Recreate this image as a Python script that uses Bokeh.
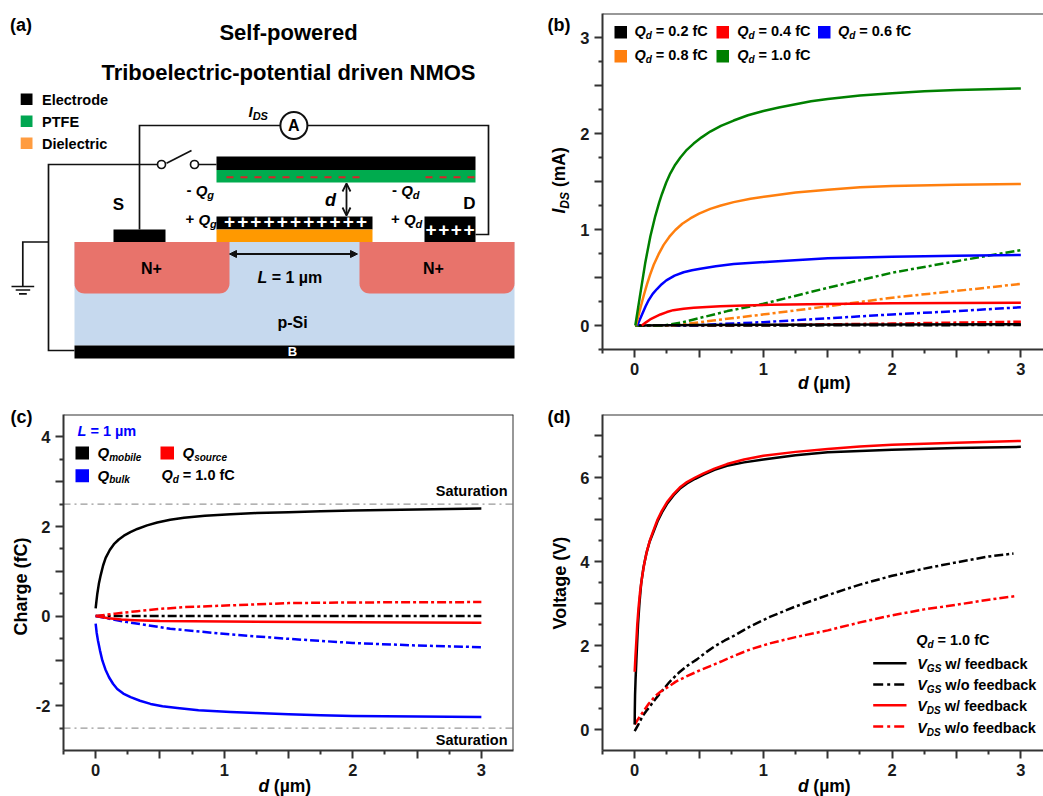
import numpy as np
from bokeh.embed import file_html
from bokeh.resources import INLINE
from bokeh.layouts import column, row
from bokeh.plotting import figure
from bokeh.models import Label, Span, Range1d, FixedTicker, Arrow, OpenHead, NormalHead
from bokeh.core.properties import value

# ---------- panel (b) values: I_DS (mA) against d (um) ----------
b_d_10 = [0.005, 0.039, 0.083, 0.122, 0.16, 0.19, 0.212, 0.245, 0.277, 0.315, 0.355, 0.405, 0.458, 0.52, 0.587, 0.67, 0.769, 0.88, 1.0, 1.12, 1.25, 1.37, 1.5, 1.75, 2.0, 2.25, 2.5, 2.75, 3.0]
b_i_10 = [0.0, 0.29, 0.66, 0.93, 1.14, 1.28, 1.37, 1.49, 1.585, 1.675, 1.75, 1.83, 1.895, 1.96, 2.02, 2.08, 2.135, 2.19, 2.235, 2.27, 2.305, 2.335, 2.36, 2.395, 2.42, 2.44, 2.452, 2.462, 2.47]
b_d_08 = [0.01, 0.044, 0.07, 0.096, 0.12, 0.148, 0.185, 0.225, 0.27, 0.316, 0.37, 0.432, 0.5, 0.587, 0.67, 0.769, 0.9, 1.05, 1.25, 1.5, 1.75, 2.0, 2.5, 3.0]
b_i_08 = [0.0, 0.18, 0.31, 0.43, 0.53, 0.633, 0.74, 0.84, 0.925, 0.995, 1.06, 1.115, 1.165, 1.215, 1.25, 1.285, 1.32, 1.35, 1.385, 1.415, 1.44, 1.453, 1.465, 1.474]
b_d_06 = [0.02, 0.057, 0.085, 0.109, 0.14, 0.173, 0.21, 0.246, 0.31, 0.38, 0.445, 0.51, 0.63, 0.769, 1.05, 1.5, 2.0, 2.5, 3.0]
b_i_06 = [0.0, 0.115, 0.2, 0.265, 0.33, 0.38, 0.43, 0.47, 0.52, 0.555, 0.575, 0.592, 0.617, 0.64, 0.665, 0.70, 0.716, 0.727, 0.735]
b_d_04 = [0.055, 0.085, 0.12, 0.16, 0.2, 0.25, 0.3, 0.38, 0.458, 0.56, 0.665, 0.85, 1.05, 1.5, 2.0, 2.5, 3.0]
b_i_04 = [0.0, 0.03, 0.063, 0.09, 0.115, 0.14, 0.16, 0.175, 0.184, 0.193, 0.2, 0.208, 0.215, 0.225, 0.232, 0.235, 0.236]
b_d_02 = [0.03, 0.5, 1.0, 2.0, 3.0]
b_i_02 = [0.0, 0.005, 0.008, 0.01, 0.012]
bd_d_10 = [0.005, 0.22, 0.355, 0.72, 1.0, 1.5, 2.0, 2.5, 3.0]
bd_i_10 = [0.0, 0.0, 0.028, 0.15, 0.226, 0.393, 0.55, 0.67, 0.785]
bd_d_08 = [0.005, 0.3, 0.61, 1.03, 1.5, 2.0, 2.5, 3.0]
bd_i_08 = [0.0, 0.0, 0.052, 0.12, 0.2, 0.29, 0.36, 0.434]
bd_d_06 = [0.005, 0.5, 1.0, 1.5, 2.0, 2.5, 3.0]
bd_i_06 = [0.0, 0.005, 0.035, 0.075, 0.115, 0.15, 0.19]
bd_d_04 = [0.005, 1.0, 2.0, 3.0]
bd_i_04 = [0.0, 0.005, 0.02, 0.04]
bd_d_02 = [0.005, 1.0, 2.0, 3.0]
bd_i_02 = [0.0, 0.0, 0.003, 0.005]
b_labels = ["0.2", "0.4", "0.6", "0.8", "1.0"]

# ---------- panel (c) values: charge (fC) against d (um) ----------
c_mob_d = [0.0, 0.006, 0.013, 0.025, 0.039, 0.058, 0.078, 0.11, 0.142, 0.18, 0.22, 0.27, 0.324, 0.4, 0.479, 0.58, 0.687, 0.85, 1.05, 1.25, 1.5, 1.75, 2.0, 2.5, 3.0]
c_mob_q = [0.17, 0.33, 0.5, 0.72, 0.91, 1.13, 1.3, 1.475, 1.605, 1.71, 1.795, 1.875, 1.945, 2.025, 2.09, 2.15, 2.195, 2.24, 2.275, 2.30, 2.32, 2.34, 2.355, 2.38, 2.40]
c_blk_d = [0.0, 0.008, 0.018, 0.034, 0.052, 0.076, 0.104, 0.135, 0.168, 0.215, 0.272, 0.345, 0.427, 0.52, 0.635, 0.8, 1.05, 1.25, 1.5, 1.75, 2.0, 2.5, 3.0]
c_blk_q = [-0.17, -0.37, -0.545, -0.77, -0.99, -1.19, -1.365, -1.51, -1.626, -1.73, -1.81, -1.89, -1.96, -2.01, -2.05, -2.10, -2.14, -2.165, -2.19, -2.215, -2.23, -2.24, -2.25]
c_src_d = [0.0, 0.1, 0.2, 0.3, 0.5, 1.0, 2.0, 3.0]
c_src_q = [0.0, -0.05, -0.075, -0.09, -0.11, -0.12, -0.14, -0.15]
cd_src_d = [0.0, 0.15, 0.324, 0.5, 0.687, 1.05, 1.5, 2.0, 3.0]
cd_src_q = [0.0, 0.055, 0.11, 0.16, 0.2, 0.24, 0.29, 0.305, 0.313]
cd_mob_d = [0.0, 1.0, 2.0, 3.0]
cd_mob_q = [0.0, 0.0, 0.0, 0.0]
cd_blk_d = [0.0, 0.245, 0.58, 1.05, 1.5, 2.0, 2.5, 3.0]
cd_blk_q = [0.0, -0.134, -0.283, -0.41, -0.507, -0.6, -0.657, -0.694]
saturation_levels = [2.5, -2.5]

# ---------- panel (d) values: voltage (V) against d (um) ----------
d_vds_d = [0.0, 0.006, 0.013, 0.02, 0.03, 0.042, 0.057, 0.075, 0.096, 0.12, 0.148, 0.178, 0.212, 0.255, 0.303, 0.35, 0.406, 0.47, 0.536, 0.62, 0.717, 0.85, 1.0, 1.25, 1.5, 1.75, 2.0, 2.5, 3.0]
d_vds_v = [1.376, 1.75, 2.11, 2.5, 2.9, 3.28, 3.62, 3.96, 4.26, 4.52, 4.76, 5.0, 5.21, 5.43, 5.61, 5.76, 5.89, 6.0, 6.1, 6.21, 6.32, 6.43, 6.52, 6.61, 6.68, 6.74, 6.78, 6.83, 6.87]
d_vgs_d = [0.0, 0.001, 0.003, 0.007, 0.013, 0.019, 0.026, 0.037, 0.05, 0.068, 0.09, 0.116, 0.148, 0.178, 0.212, 0.255, 0.303, 0.35, 0.406, 0.47, 0.536, 0.62, 0.717, 0.85, 1.0, 1.25, 1.5, 1.75, 2.0, 2.5, 3.0]
d_vgs_v = [0.12, 0.45, 0.83, 1.2, 1.63, 2.05, 2.5, 3.0, 3.46, 3.85, 4.18, 4.47, 4.72, 4.96, 5.17, 5.39, 5.58, 5.73, 5.86, 5.97, 6.07, 6.18, 6.28, 6.36, 6.43, 6.53, 6.6, 6.63, 6.66, 6.7, 6.73]
dd_vgs_d = [0.0, 0.03, 0.06, 0.09, 0.12, 0.16, 0.2, 0.27, 0.342, 0.41, 0.484, 0.55, 0.626, 0.7, 0.77, 0.9, 1.05, 1.25, 1.5, 1.75, 2.0, 2.25, 2.5, 2.75, 2.943]
dd_vgs_v = [-0.04, 0.13, 0.31, 0.44, 0.557, 0.72, 0.875, 1.13, 1.35, 1.52, 1.67, 1.83, 1.99, 2.12, 2.23, 2.46, 2.68, 2.93, 3.2, 3.45, 3.66, 3.83, 3.98, 4.12, 4.19]
dd_vds_d = [0.0, 0.035, 0.07, 0.11, 0.16, 0.2, 0.25, 0.32, 0.406, 0.5, 0.587, 0.68, 0.77, 0.9, 1.05, 1.25, 1.5, 1.75, 2.0, 2.25, 2.5, 2.75, 2.97]
dd_vds_v = [0.12, 0.29, 0.44, 0.62, 0.795, 0.9, 0.994, 1.14, 1.27, 1.4, 1.51, 1.63, 1.75, 1.91, 2.05, 2.2, 2.36, 2.55, 2.72, 2.86, 2.97, 3.09, 3.18]

# ---------- colours ----------
BLACK, RED, BLUE, ORANGE, GREEN = "#000000", "#FF0000", "#0000FF", "#FF7F0E", "#008000"
AXIS = "#333333"
FONT = "Liberation Sans"
DASH = "9 3 3 3"
LEGEND_DASH = "10 4 3 4"

# ---------- overlay for every text: a transparent figure across the whole page ----------
overlay = figure(width=1043, height=796, output_backend="svg", toolbar_location=None,
                 x_range=Range1d(0, 1043), y_range=Range1d(796, 0), frame_align=False,
                 min_border_left=0, min_border_right=0, min_border_top=0, min_border_bottom=0,
                 margin=(-796, 0, 0, 0))
overlay.axis.visible = False
overlay.grid.visible = False
overlay.outline_line_color = None
overlay.background_fill_color = None
overlay.border_fill_color = None

WIDTHS = {" ": .278, "(": .333, ")": .333, "-": .333, "/": .278, "=": .584, ".": .278, "+": .584,
          "Q": .778, "V": .667, "I": .278, "G": .778, "S": .667, "D": .722, "L": .611, "f": .333, "C": .722,
          "w": .778, "m": .889, "i": .278, "l": .278, "t": .333, "r": .389, "k": .556, "A": .722}
MID = 0.36  # distance from the text baseline up to the middle used by the label


def twidth(s, size):
    return sum(WIDTHS.get(ch, .6 if ch.isalpha() else .556) for ch in s) * size


def put(px, py, text, size, style="bold", color="black", align="left", angle=0):
    """px, py: page position of the text's baseline."""
    if angle:
        px = px - MID * size
    else:
        py = py - MID * size
    overlay.add_layout(Label(x=px, y=py, text=text, text_font=FONT, text_font_size=f"{size}px",
                             text_font_style=style, text_color=color, text_align=align, text_baseline="middle",
                             angle=angle, angle_units="rad"))


def rich(px, py, segs, rotated=False, color="black"):
    """segs: (text, size, style, baseline_shift)"""
    pos = 0.0
    for text, size, style, shift in segs:
        lead = len(text) - len(text.lstrip(" "))
        body = text.strip(" ")
        pos += lead * .278 * size
        if rotated:
            put(px + shift, py - pos, body, size, style, color, angle=np.pi / 2)
        else:
            put(px + pos, py + shift, body, size, style, color)
        pos += twidth(text.lstrip(" "), size)


def sub(main, low, rest="", size=14.5, small=10, shift=3):
    out = [(main, size, "bold italic", 0), (low, small, "bold italic", shift)]
    if rest:
        out.append((rest, size, "bold", 0))
    return out


# ---------- chart panels ----------
def chart(width, height, L, T, R, B, ox, oy, xr, yr, xmaj, xmin, xlab, ymaj, ymin, ylab, right_edge):
    p = figure(width=width, height=height, output_backend="svg", toolbar_location=None,
               x_range=Range1d(*xr), y_range=Range1d(*yr), frame_align=False,
               min_border_left=L - ox, min_border_right=ox + width - R,
               min_border_top=T - oy, min_border_bottom=oy + height - B)
    p.grid.visible = False
    p.outline_line_color = None
    p.background_fill_color = "white"
    for ax, maj, mnr, lab in ((p.xaxis[0], xmaj, xmin, xlab), (p.yaxis[0], ymaj, ymin, ylab)):
        ax.ticker = FixedTicker(ticks=maj, minor_ticks=mnr)
        ax.major_label_overrides = {t: (str(int(t)) if t in lab else "") for t in maj}
        ax.major_label_text_font = FONT
        ax.major_label_text_font_style = "bold"
        ax.major_label_text_font_size = "16.5px"
        ax.major_label_text_color = "#1a1a1a"
        ax.axis_line_color = AXIS
        ax.axis_line_width = 2
        ax.major_tick_line_color = AXIS
        ax.minor_tick_line_color = AXIS
        ax.major_tick_line_width = 2
        ax.minor_tick_line_width = 2
        ax.major_tick_in = 0
        ax.minor_tick_in = 0
        ax.major_tick_out = 8
        ax.minor_tick_out = 4
        ax.major_label_standoff = 5
    p.add_layout(Span(location=yr[1], dimension="width", line_color=AXIS, line_width=2))
    if right_edge:
        p.add_layout(Span(location=xr[1], dimension="height", line_color=AXIS, line_width=2))
    fx = lambda v: xr[0] + (v - L) * (xr[1] - xr[0]) / (R - L)
    fy = lambda v: yr[1] - (v - T) * (yr[1] - yr[0]) / (B - T)
    return p, fx, fy


def curve(p, xs, ys, color, dashed=False, lw=2.5):
    p.line(xs, ys, line_color=color, line_width=lw, line_join="round",
           line_dash=DASH if dashed else "solid")


# ---------- panel (a) ----------
a = figure(width=530, height=395, output_backend="svg", toolbar_location=None,
           x_range=Range1d(0, 530), y_range=Range1d(395, 0), frame_align=False,
           min_border_left=0, min_border_right=0, min_border_top=0, min_border_bottom=0)
a.axis.visible = False
a.grid.visible = False
a.outline_line_color = None

SI, NP, EL, PTFE, DIEL, REDDASH = "#C6D9EE", "#E8736B", "#000000", "#00AB4E", "#FF9900", "#D8232A"


def block(left, right, top, bottom, color):
    a.quad(left=[left], right=[right], top=[top], bottom=[bottom], fill_color=color, line_color=None)


def nplus(left, right, top, bottom, r):
    t = np.linspace(0, np.pi / 2, 10)
    xs = [left] + list(left + r - r * np.cos(t)) + list(right - r + r * np.sin(t)) + [right]
    ys = [top] + list(bottom - r + r * np.sin(t)) + list(bottom - r + r * np.cos(t)) + [top]
    a.patch(xs, ys, fill_color=NP, line_color=None)


block(74, 514, 241.5, 345, SI)
block(74, 514, 345, 358, EL)
nplus(74, 229, 241.5, 293, 10)
nplus(359, 514, 241.5, 293, 10)
block(113, 165, 229, 241.5, EL)
block(216, 372, 216, 229, EL)
block(216, 372, 229, 241.5, DIEL)
block(424, 475, 216, 241.5, EL)
block(216, 475, 156, 169.5, EL)
block(216, 475, 169.5, 182, PTFE)
a.multi_line([[226, 364], [425, 475]], [[176.7, 176.7], [176.7, 176.7]], line_color=REDDASH, line_width=2, line_dash="7 7")

WIRE = dict(line_color="#111111", line_width=1.7, line_join="miter")
a.line([139, 139, 280], [229, 125, 125], **WIRE)
a.line([307, 488, 488, 475], [125, 125, 234, 234], **WIRE)
a.line([157, 48, 48, 74], [164, 164, 350, 350], **WIRE)
a.line([48, 22.3, 22.3], [241.5, 241.5, 286], **WIRE)
a.line([11, 33.7], [286, 286], **WIRE)
a.line([15.2, 29.7], [289.5, 289.5], **WIRE)
a.line([18.5, 26.3], [293.3, 293.3], **WIRE)
a.line([166, 191], [162.7, 150], **WIRE)
a.line([198, 216], [164, 164], **WIRE)
a.scatter([161, 194], [164, 164], size=8, marker="circle", fill_color="white", line_color="#111111", line_width=1.7)
a.scatter([293.4], [125], size=27, marker="circle", fill_color="white", line_color="#111111", line_width=2)
put(293.4, 131, "A", 16, align="center")

a.add_layout(Arrow(x_start=346, y_start=183, x_end=346, y_end=215, line_width=1.8, line_color="#111111",
                   start=OpenHead(size=8, line_width=1.8, line_color="#111111"),
                   end=OpenHead(size=8, line_width=1.8, line_color="#111111")))
a.add_layout(Arrow(x_start=229, y_start=253.5, x_end=357, y_end=253.5, line_width=1.8, line_color="#111111",
                   start=NormalHead(size=7, fill_color="#111111", line_color="#111111"),
                   end=NormalHead(size=7, fill_color="#111111", line_color="#111111")))

gate_plus_x = [229 + 13.2 * i for i in range(11)]
a.text(gate_plus_x, [220.5] * 11, text=["+"] * 11, text_color="white", text_font=value(FONT),
       text_font_style="bold", text_font_size="19px", text_align="center", text_baseline="middle")
drain_plus_x = [430.5 + 12.7 * i for i in range(4)]
a.text(drain_plus_x, [228.5] * 4, text=["+"] * 4, text_color="white", text_font=value(FONT),
       text_font_style="bold", text_font_size="19px", text_align="center", text_baseline="middle")

put(9.5, 30.5, "(a)", 18)
put(288, 40, "Self-powered", 22, align="center")
put(288, 80, "Triboelectric-potential driven NMOS", 22, align="center")
for yy, col, name in ((93, "#000000", "Electrode"), (115, "#00A651", "PTFE"), (137, "#FF9C40", "Dielectric")):
    block(20.2, 32, yy, yy + 11.5, col)
    put(41.5, yy + 11.5, name, 14.5)
rich(248, 116.5, sub("I", "DS", size=15, small=11))
rich(186, 195, [("- ", 15, "bold", 0)] + sub("Q", "g", size=15, small=11))
rich(185, 224, [("+ ", 15, "bold", 0)] + sub("Q", "g", size=15, small=11))
rich(391.5, 195, [("- ", 15, "bold", 0)] + sub("Q", "d", size=15, small=11))
rich(390.5, 224, [("+ ", 15, "bold", 0)] + sub("Q", "d", size=15, small=11))
put(330, 206, "d", 18, "bold italic", align="center")
put(118, 210, "S", 17, align="center")
put(469, 209, "D", 17, align="center")
put(151, 274, "N+", 16, align="center")
put(433, 274, "N+", 16, align="center")
rich(257, 282.5, [("L", 16, "bold italic", 0), (" = 1 µm", 16, "bold", 0)])
put(292, 327.5, "p-Si", 16, align="center")
put(292, 356, "B", 13, color="white", align="center")

# ---------- panel (b) ----------
x_major = [0.0, 0.5, 1.0, 1.5, 2.0, 2.5, 3.0]
x_minor = [-0.25, 0.25, 0.75, 1.25, 1.75, 2.25, 2.75]
x_labels = [0.0, 1.0, 2.0, 3.0]
b, bx, by = chart(513, 395, 602, 13, 1043, 349, 530, 0, (-0.25, 3.176), (-0.25, 3.25),
                  x_major, x_minor, x_labels,
                  [0.0, 0.5, 1.0, 1.5, 2.0, 2.5, 3.0], [-0.25, 0.25, 0.75, 1.25, 1.75, 2.25, 2.75],
                  [0.0, 1.0, 2.0, 3.0], False)
curve(b, bd_d_04, bd_i_04, RED, True)
curve(b, bd_d_02, bd_i_02, BLACK, True)
curve(b, bd_d_06, bd_i_06, BLUE, True)
curve(b, bd_d_08, bd_i_08, ORANGE, True)
curve(b, bd_d_10, bd_i_10, GREEN, True)
curve(b, b_d_02, b_i_02, BLACK)
curve(b, b_d_04, b_i_04, RED)
curve(b, b_d_06, b_i_06, BLUE)
curve(b, b_d_08, b_i_08, ORANGE)
curve(b, b_d_10, b_i_10, GREEN)

for (sx, tx, base, col, lab) in zip((614, 716, 817.5, 614, 716), (634, 736.7, 837.5, 634, 736.7),
                                    (36, 36, 36, 60, 60), (BLACK, RED, BLUE, ORANGE, GREEN), b_labels):
    b.quad(left=[bx(sx)], right=[bx(sx + 12.5)], top=[by(base - 10.5)], bottom=[by(base + 2)], fill_color=col, line_color=None)
    rich(tx, base, sub("Q", "d", f" = {lab} fC"))
put(547, 30.5, "(b)", 18)
rich(565, 213, [("I", 17.5, "bold italic", 0), ("DS", 12, "bold italic", 4), (" (mA)", 17.5, "bold", 0)], rotated=True)
rich(797.5, 389, [("d", 17.5, "bold italic", 0), (" (µm)", 17.5, "bold", 0)])

# ---------- panel (c) ----------
c, cx, cy = chart(530, 401, 63, 414, 513, 750, 0, 395, (-0.25, 3.25), (-3.0, 4.5),
                  x_major, x_minor, x_labels,
                  [-2.0, -1.0, 0.0, 1.0, 2.0, 3.0, 4.0], [-2.5, -1.5, -0.5, 0.5, 1.5, 2.5, 3.5],
                  [-2.0, 0.0, 2.0, 4.0], True)
for lev in saturation_levels:
    c.line([-0.25, 3.25], [lev, lev], line_color="#999999", line_width=1.3, line_dash="7 4 2 4")
curve(c, cd_mob_d, cd_mob_q, BLACK, True)
curve(c, cd_src_d, cd_src_q, RED, True)
curve(c, cd_blk_d, cd_blk_q, BLUE, True)
curve(c, c_src_d, c_src_q, RED)
curve(c, c_mob_d, c_mob_q, BLACK)
curve(c, c_blk_d, c_blk_q, BLUE)
for sx, top, col in ((75, 446, BLACK), (160, 446, RED), (75, 468.7, BLUE)):
    c.quad(left=[cx(sx)], right=[cx(sx + 13.5)], top=[cy(top)], bottom=[cy(top + 13)], fill_color=col, line_color=None)
rich(77, 436, [("L", 14.5, "bold italic", 0), (" = 1 µm", 14.5, "bold", 0)], color=BLUE)
rich(97, 457.5, sub("Q", "mobile", size=15, small=10))
rich(182, 457.5, sub("Q", "source", size=15, small=10))
rich(97, 480, sub("Q", "bulk", size=15, small=10))
rich(161, 480, sub("Q", "d", " = 1.0 fC"))
put(507, 496, "Saturation", 14.5, align="right")
put(507, 744.5, "Saturation", 14.5, align="right")
put(10, 422.5, "(c)", 18)
put(27, 586, "Charge (fC)", 18, angle=np.pi / 2, align="center")
rich(258, 792, [("d", 17.5, "bold italic", 0), (" (µm)", 17.5, "bold", 0)])

# ---------- panel (d) ----------
d, dx, dy = chart(513, 401, 602, 414, 1043, 750, 530, 395, (-0.25, 3.176), (-0.5, 7.5),
                  x_major, x_minor, x_labels,
                  [0.0, 1.0, 2.0, 3.0, 4.0, 5.0, 6.0, 7.0], [0.5, 1.5, 2.5, 3.5, 4.5, 5.5, 6.5],
                  [0.0, 2.0, 4.0, 6.0], False)
curve(d, dd_vgs_d, dd_vgs_v, BLACK, True)
curve(d, dd_vds_d, dd_vds_v, RED, True)
curve(d, d_vgs_d, d_vgs_v, BLACK)
curve(d, d_vds_d, d_vds_v, RED)
rich(915.7, 645, sub("Q", "d", " = 1.0 fC"))
legend_rows = (("GS", " w/ feedback", BLACK, False), ("GS", " w/o feedback", BLACK, True),
               ("DS", " w/ feedback", RED, False), ("DS", " w/o feedback", RED, True))
for ly, tb, (low, rest, col, dsh) in zip((662.7, 684, 704.7, 726), (668.3, 690, 711, 732.3), legend_rows):
    d.line([dx(872.7), dx(906)], [dy(ly), dy(ly)], line_color=col, line_width=2.5, line_dash=LEGEND_DASH if dsh else "solid")
    rich(916.7, tb, sub("V", low, rest))
put(547, 422.5, "(d)", 18)
put(566, 582.7, "Voltage (V)", 18, angle=np.pi / 2, align="center")
rich(797.5, 792, [("d", 17.5, "bold italic", 0), (" (µm)", 17.5, "bold", 0)])

page = column(row(a, b), row(c, d), overlay)
open("out.html", "w").write(file_html(page, INLINE))
